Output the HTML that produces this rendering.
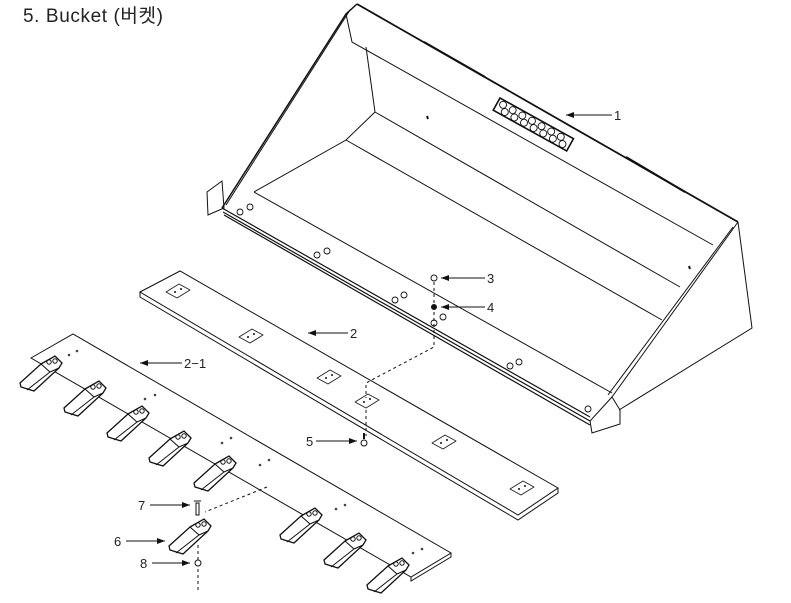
<!DOCTYPE html>
<html><head><meta charset="utf-8"><style>
html,body{margin:0;padding:0;background:#fff;}
svg{display:block}
text{font-family:"Liberation Sans","Noto Sans CJK KR",sans-serif;fill:#222}
</style></head><body>
<svg width="791" height="603" viewBox="0 0 791 603" xmlns="http://www.w3.org/2000/svg">
<defs>
<marker id="ah" markerWidth="8" markerHeight="6" refX="8" refY="3" orient="auto"><path d="M0,0 L8,3 L0,6 Z" fill="#111"/></marker>
<g id="tooth">
<path d="M-10,4 L4,-4 L11,3 L8,8 L-17,31 L-30,27 L-31,23 Z" fill="#fff" stroke="#111" stroke-width="1.3"/>
<path d="M-10,4 L-1,12 L8,8 M-1,12 L-24,30" fill="none" stroke="#111" stroke-width="1"/>
<circle cx="-2" cy="2" r="2.2" fill="none" stroke="#111"/><circle cx="4" cy="1" r="2.2" fill="none" stroke="#111"/>
</g>
<g id="pad"><path d="M-12,0 L1,-8 L12,-2 L-1,6 Z" fill="none" stroke="#222" stroke-width="0.9" stroke-linejoin="round"/><circle cx="-3" cy="0" r="1" fill="#111"/><circle cx="3" cy="-3" r="1" fill="#111"/></g>
</defs>
<text x="23" y="22" font-size="19" letter-spacing="0.6">5. Bucket (버켓)</text>
<g fill="none" stroke="#111" stroke-width="1">
<!-- bucket -->
<path d="M357,4 L738,222" stroke-width="1.8"/>
<path d="M357,4 L346,14 L222,208" stroke-width="1.5"/>
<path d="M350,10 L226,205"/>
<path d="M346,14 L352,42 L713,245"/>
<path d="M366,47 L375,112 L680,287"/>
<path d="M375,112 L346,140 L254,192"/>
<path d="M346,140 L662,320"/>
<path d="M254,192 L612,393"/>
<path d="M222,208 L590,417 M223,212 L590,421 M224,215 L590,425" stroke-width="1.2"/>
<path d="M738,222 L612,397 M733,227 L608,395"/>
<path d="M738,222 L752,328 L619,410"/>
<path d="M612,397 L620,410 L620,424 L592,433 L590,421 Z"/>
<path d="M207,192 L222,181 L224,208 L208,215 Z"/>
<path d="M424,42 L485,77 M626,157 L685,192" stroke-width="2"/>
<g transform="translate(500,98) rotate(29)">
<rect x="0" y="0" width="84" height="14" stroke-width="1.6"/>
<g stroke-width="0.9"><circle cx="6" cy="4.5" r="3.5"/><circle cx="17" cy="4.5" r="3.5"/><circle cx="28" cy="4.5" r="3.5"/><circle cx="39" cy="4.5" r="3.5"/><circle cx="50" cy="4.5" r="3.5"/><circle cx="61" cy="4.5" r="3.5"/><circle cx="72" cy="4.5" r="3.5"/>
<circle cx="11" cy="10" r="3.5"/><circle cx="22" cy="10" r="3.5"/><circle cx="33" cy="10" r="3.5"/><circle cx="44" cy="10" r="3.5"/><circle cx="55" cy="10" r="3.5"/><circle cx="66" cy="10" r="3.5"/><circle cx="77" cy="10" r="3.5"/></g>
</g>
<path d="M427,116 l1,3 M689,266 l1,3" stroke-width="2"/>
<g stroke-width="0.9">
<circle cx="240" cy="212" r="3"/><circle cx="250" cy="207" r="3"/><circle cx="317" cy="255" r="3"/><circle cx="327" cy="251" r="3"/>
<circle cx="395" cy="300" r="3"/><circle cx="404" cy="295" r="3"/><circle cx="434" cy="323" r="3"/><circle cx="443" cy="317" r="3"/>
<circle cx="510" cy="366" r="3"/><circle cx="519" cy="362" r="3"/><circle cx="588" cy="409" r="3"/>
<circle cx="434" cy="278" r="3"/>
</g>
<circle cx="434" cy="307" r="2.5" fill="#111"/>
<!-- dashed -->
<path d="M434,282 L434,347 L366,383 L366,398 M366,410 L366,436" stroke-dasharray="3,3"/>
<path d="M267,487 L205,512 M198,545 L198,590" stroke-dasharray="3,3"/>
<!-- plate 2 -->
<path d="M140,292 L180,271 L558,488 L518,515 Z"/>
<path d="M140,292 L140,297 L518,520 L558,493 L558,488"/>
<!-- plate 2-1 -->
<path d="M31,358 L73,334 L451,553 L411,577 Z"/>
<path d="M411,577 L411,581 L451,557 L451,553"/>
<!-- labels -->
<g stroke="#111" stroke-width="1">
<path d="M612,115 L566,115" marker-end="url(#ah)"/>
<path d="M485,278 L441,278" marker-end="url(#ah)"/>
<path d="M485,307 L441,307" marker-end="url(#ah)"/>
<path d="M348,333 L308,333" marker-end="url(#ah)"/>
<path d="M182,363 L140,363" marker-end="url(#ah)"/>
<path d="M316,441 L357,441" marker-end="url(#ah)"/>
<path d="M150,505 L190,505" marker-end="url(#ah)"/>
<path d="M126,541 L165,541" marker-end="url(#ah)"/>
<path d="M152,563 L190,563" marker-end="url(#ah)"/>
</g>
</g>
<g fill="#444"><circle cx="69" cy="355" r="1.3"/><circle cx="77" cy="351" r="1.3"/><circle cx="145" cy="399" r="1.3"/><circle cx="155" cy="395" r="1.3"/><circle cx="222" cy="443" r="1.3"/><circle cx="231" cy="438" r="1.3"/><circle cx="260" cy="465" r="1.3"/><circle cx="269" cy="460" r="1.3"/><circle cx="336" cy="509" r="1.3"/><circle cx="345" cy="505" r="1.3"/><circle cx="413" cy="553" r="1.3"/><circle cx="422" cy="549" r="1.3"/></g>
<path d="M196,503 L199,503 L199,515 L196,515 Z M194,501 L201,501" fill="#fff" stroke="#111"/>
<circle cx="364" cy="443" r="3" fill="#fff" stroke="#111"/><path d="M364,439 L364,433" stroke="#111" stroke-width="2"/>
<circle cx="198" cy="563" r="3" fill="#fff" stroke="#111"/>
<g>
<use href="#pad" x="178" y="292"/><use href="#pad" x="251" y="337"/><use href="#pad" x="329" y="378"/><use href="#pad" x="367" y="402"/><use href="#pad" x="444" y="443"/><use href="#pad" x="522" y="489"/>
</g>
<g>
<use href="#tooth" x="51" y="360"/><use href="#tooth" x="95" y="385"/><use href="#tooth" x="138" y="410"/><use href="#tooth" x="180" y="435"/><use href="#tooth" x="225" y="460"/><use href="#tooth" x="311" y="512"/><use href="#tooth" x="355" y="537"/><use href="#tooth" x="398" y="562"/><use href="#tooth" x="200" y="523"/>
</g>
<g font-size="13">
<text x="614" y="120">1</text><text x="487" y="283">3</text><text x="487" y="312">4</text><text x="350" y="338">2</text><text x="184" y="368">2−1</text>
<text x="306" y="446">5</text><text x="138" y="510">7</text><text x="114" y="546">6</text><text x="140" y="568">8</text>
</g>
</svg>
</body></html>
